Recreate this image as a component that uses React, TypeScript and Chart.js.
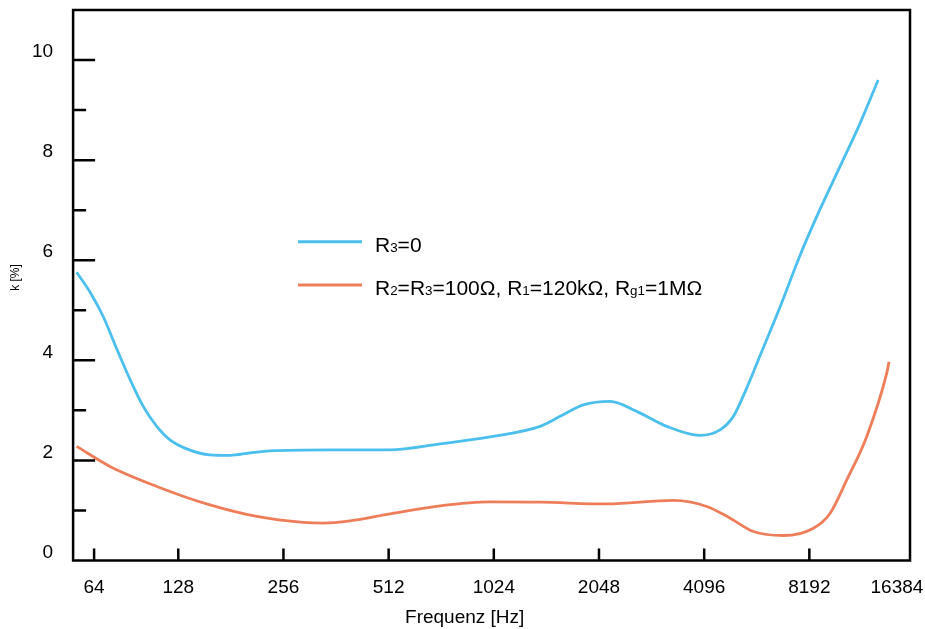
import React, { useEffect, useRef } from "react";
import { Chart, registerables } from "chart.js";

Chart.register(...registerables);

// ---- data (frequency in Hz, distortion k in %) ----
const blueFreq = [65.5, 71.6, 78.1, 85.3, 93.1, 101.6, 111.1, 121.2, 135.3, 157.8, 180.1, 205.5, 234.3, 348, 517, 718, 999, 1389, 1585, 1847, 2204, 2626, 3201, 3986, 4548, 4965, 5364, 5918, 6758, 7708, 8792, 10039, 11450, 12891];
const blueK = [5.76, 5.36, 4.87, 4.23, 3.62, 3.08, 2.68, 2.41, 2.23, 2.11, 2.1, 2.15, 2.19, 2.21, 2.21, 2.33, 2.47, 2.68, 2.88, 3.11, 3.18, 2.98, 2.68, 2.5, 2.61, 2.88, 3.37, 4.09, 5.07, 6.1, 7.02, 7.88, 8.74, 9.6];

const orangeFreq = [65.5, 81.6, 111.1, 157.8, 214.7, 291.8, 332.9, 397, 517, 718, 999, 1389, 2157, 3343, 4167, 4862, 5665, 6903, 8415, 9398, 10484, 11960, 13648, 13850];
const orangeK = [2.28, 1.88, 1.48, 1.11, 0.88, 0.76, 0.745, 0.79, 0.93, 1.09, 1.17, 1.165, 1.13, 1.2, 1.08, 0.845, 0.58, 0.5, 0.645, 0.945, 1.61, 2.48, 3.75, 3.97];

const xTickValues = [73.5, 128, 256, 512, 1024, 2048, 4096, 8192, 14590];
const xTickLabels = ["64", "128", "256", "512", "1024", "2048", "4096", "8192", "16384"];
const yMajorTicks = [0, 2, 4, 6, 8, 10];
const yMinorTicks = [1, 3, 5, 7, 9];

const xTitle = "Frequenz [Hz]";
const yTitle = "k [%]";

// legend labels: [text, isSubscript]
const legendBlue: [string, boolean][] = [["R", false], ["3", true], ["=0", false]];
const legendOrange: [string, boolean][] = [
  ["R", false], ["2", true], ["=R", false], ["3", true], ["=100Ω, R", false], ["1", true],
  ["=120kΩ, R", false], ["g1", true], ["=1MΩ", false],
];

const BLUE = "#4bbfee";
const ORANGE = "#ee7e5a";
const FONT = "'Liberation Sans', Arial, Helvetica, sans-serif";

const decorPlugin = {
  id: "decor",
  afterDatasetsDraw(chart: any) {
    const { ctx, chartArea: a, scales } = chart;
    const xs = scales.x;
    const ys = scales.y;
    ctx.save();
    ctx.strokeStyle = "#000";
    ctx.lineWidth = 2.5;
    ctx.lineCap = "butt";
    ctx.strokeRect(a.left, a.top, a.right - a.left, a.bottom - a.top);
    // inward x tick marks (last label has no mark)
    ctx.beginPath();
    xTickValues.slice(0, -1).forEach((v) => {
      const px = xs.getPixelForValue(v);
      ctx.moveTo(px, a.bottom);
      ctx.lineTo(px, a.bottom - 12);
    });
    // inward y tick marks
    yMajorTicks.filter((v) => v > 0).forEach((v) => {
      const py = ys.getPixelForValue(v);
      ctx.moveTo(a.left, py);
      ctx.lineTo(a.left + 22, py);
    });
    yMinorTicks.forEach((v) => {
      const py = ys.getPixelForValue(v);
      ctx.moveTo(a.left, py);
      ctx.lineTo(a.left + 13, py);
    });
    ctx.stroke();

    // legend
    const items: [string, [string, boolean][], number][] = [
      [chart.data.datasets[0].borderColor, legendBlue, 241.7],
      [chart.data.datasets[1].borderColor, legendOrange, 285],
    ];
    items.forEach(([color, segs, ly]) => {
      ctx.strokeStyle = color;
      ctx.lineWidth = 3;
      ctx.beginPath();
      ctx.moveTo(298, ly);
      ctx.lineTo(362, ly);
      ctx.stroke();
      let tx = 375;
      const base = ly + 10;
      ctx.fillStyle = "#000";
      ctx.textBaseline = "alphabetic";
      ctx.textAlign = "left";
      segs.forEach(([t, sub]) => {
        ctx.font = (sub ? "13.4px " : "21px ") + FONT;
        ctx.fillText(t, tx, base);
        tx += ctx.measureText(t).width;
      });
    });

    // axis titles
    ctx.fillStyle = "#000";
    ctx.font = "19px " + FONT;
    ctx.textAlign = "center";
    ctx.textBaseline = "alphabetic";
    ctx.fillText(xTitle, 464.7, 623);
    ctx.save();
    ctx.translate(16, 277.5);
    ctx.rotate(-Math.PI / 2);
    ctx.font = "12px " + FONT;
    ctx.textBaseline = "middle";
    ctx.fillText(yTitle, 0, 0);
    ctx.restore();
    ctx.restore();
  },
};

export default function App() {
  const ref = useRef<HTMLCanvasElement | null>(null);
  useEffect(() => {
    document.body.style.margin = "0";
    const canvas = ref.current;
    if (!canvas) return;
    const chart = new Chart(canvas, {
      type: "line",
      data: {
        datasets: [
          {
            label: "R3=0",
            data: blueFreq.map((f, i) => ({ x: f, y: blueK[i] })),
            borderColor: BLUE,
            borderWidth: 2.8,
            pointRadius: 0,
            fill: false,
            cubicInterpolationMode: "monotone",
          },
          {
            label: "R2=R3=100Ω, R1=120kΩ, Rg1=1MΩ",
            data: orangeFreq.map((f, i) => ({ x: f, y: orangeK[i] })),
            borderColor: ORANGE,
            borderWidth: 2.8,
            pointRadius: 0,
            fill: false,
            cubicInterpolationMode: "monotone",
          },
        ],
      },
      options: {
        responsive: false,
        animation: false,
        layout: { padding: { top: 10, right: 15, left: 0, bottom: 0 } },
        plugins: { legend: { display: false }, tooltip: { enabled: false } },
        scales: {
          x: {
            type: "logarithmic",
            min: 64,
            max: 15903,
            grid: { display: false, drawTicks: false },
            border: { display: false },
            afterBuildTicks: (scale: any) => {
              scale.ticks = xTickValues.map((v) => ({ value: v }));
            },
            afterFit: (scale: any) => {
              scale.height = 68.5;
              scale.paddingLeft = 0;
              scale.paddingRight = 0;
            },
            ticks: {
              autoSkip: false,
              maxRotation: 0,
              padding: 16,
              color: "#000",
              font: { family: FONT, size: 19 },
              callback: (_v: any, i: number) => xTickLabels[i],
            },
          },
          y: {
            type: "linear",
            min: 0,
            max: 11,
            grid: { display: false, drawTicks: false },
            border: { display: false },
            afterFit: (scale: any) => {
              scale.width = 73.1;
              scale.paddingTop = 0;
              scale.paddingBottom = 0;
            },
            afterBuildTicks: (scale: any) => {
              scale.ticks = yMajorTicks.map((v) => ({ value: v }));
            },
            ticks: {
              padding: 20,
              labelOffset: -8,
              color: "#000",
              font: { family: FONT, size: 19 },
              callback: (v: any) => String(v),
            },
          },
        },
      },
      plugins: [decorPlugin],
    });
    return () => chart.destroy();
  }, []);
  return <canvas ref={ref} width={925} height={629} style={{ display: "block" }} />;
}
